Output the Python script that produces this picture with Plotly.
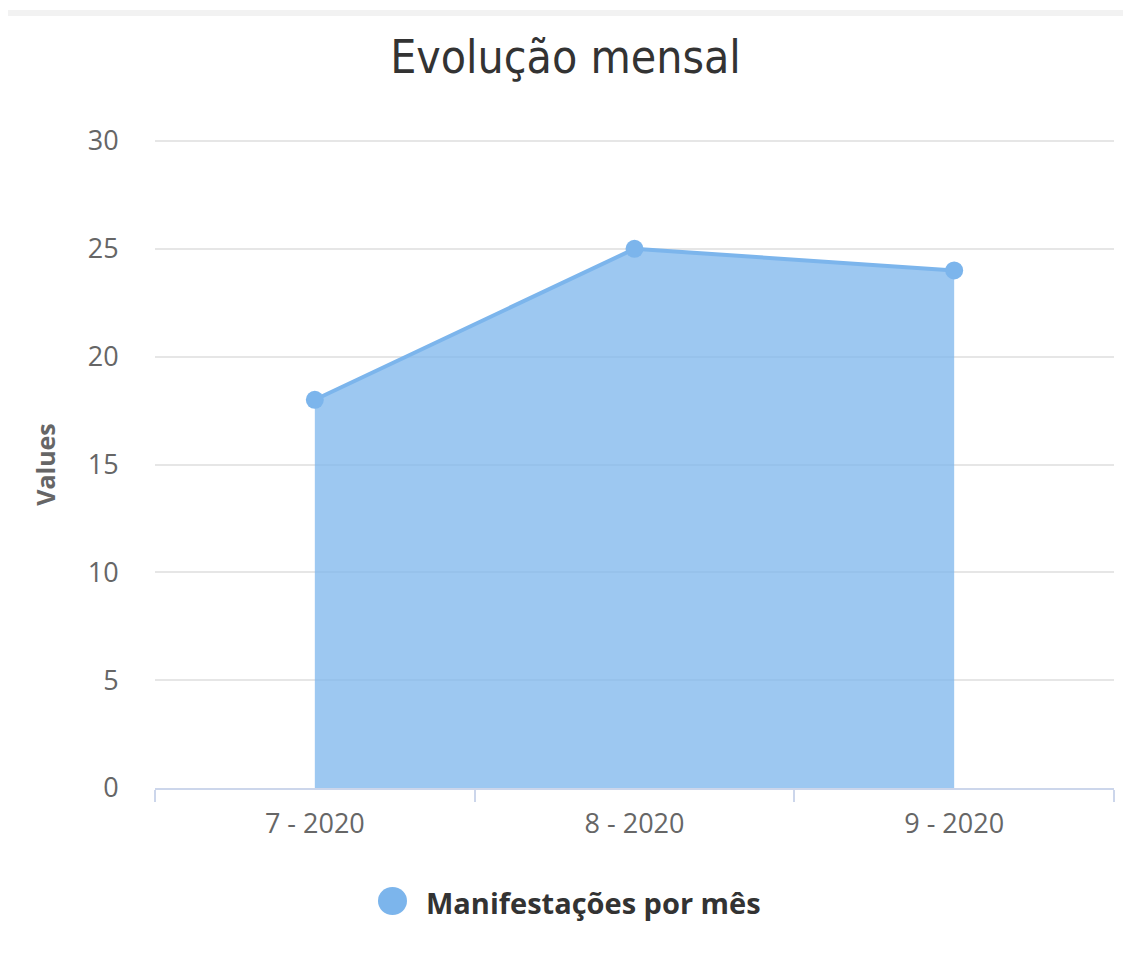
import plotly.graph_objects as go

categories = ["7 - 2020", "8 - 2020", "9 - 2020"]
values = [18, 25, 24]
series_name = "Manifestações por mês"
title_text = "Evolução mensal"
y_ticks = [0, 5, 10, 15, 20, 25, 30]

# page body has an 8px margin; figure coordinates are offset accordingly
OFF = 8
W, H = 1131 - OFF, 976 - 2 * OFF
L = 155 - OFF
R = W - (1114 - OFF)
T = 141 - OFF
B = H - (788 - OFF)
ph = H - T - B
pw = W - L - R

def px_x(px):
    return (px - OFF - L) / pw

def px_y(py):
    return (H - B - (py - OFF)) / ph

fig = go.Figure()
fig.add_trace(go.Scatter(
    x=categories, y=values, mode="lines+markers", name=series_name,
    fill="tozeroy", fillcolor="rgba(124,181,236,0.75)",
    line=dict(color="#7cb5ec", width=4),
    marker=dict(color="#7cb5ec", size=18),
    showlegend=False, hoverinfo="x+y",
))

shapes = [
    dict(type="rect", xref="paper", yref="paper",
         x0=px_x(4), x1=px_x(1140), y0=px_y(16), y1=px_y(10),
         fillcolor="#f2f2f2", line=dict(width=0), layer="below"),
    dict(type="line", xref="paper", yref="paper",
         x0=0, x1=1, y0=1, y1=1,
         line=dict(color="#e6e6e6", width=2), layer="below"),
    dict(type="circle", xref="paper", yref="paper",
         x0=px_x(378), x1=px_x(407), y0=px_y(915), y1=px_y(887),
         fillcolor="#7cb5ec", line=dict(width=0)),
]

annotations = [
    dict(text=series_name, xref="paper", yref="paper",
         x=px_x(424), y=px_y(902), xanchor="left", yanchor="middle",
         showarrow=False,
         font=dict(family="Open Sans, DejaVu Sans, sans-serif", size=29, color="#333333", weight="bold")),
]

tick_font = dict(family="Open Sans, sans-serif", size=27, color="#666666")

fig.update_layout(
    width=W, height=H,
    margin=dict(l=L, r=R, t=T, b=B),
    paper_bgcolor="white", plot_bgcolor="white",
    title=dict(text=title_text, x=(565.5 - OFF) / W, xref="container", xanchor="center",
               y=1 - (57 - OFF) / H, yref="container", yanchor="middle",
               font=dict(family="DejaVu Sans Condensed, Liberation Sans Narrow, sans-serif",
                         size=46, color="#333333")),
    xaxis=dict(type="category", range=[-0.5, 2.5], tickson="boundaries",
               showgrid=False, showline=True, linecolor="#ccd6eb", linewidth=2,
               ticks="outside", ticklen=12, tickwidth=2, tickcolor="#ccd6eb",
               ticklabelstandoff=11,
               tickfont=tick_font, zeroline=False, fixedrange=True),
    yaxis=dict(range=[0, 30], tickvals=y_ticks, showgrid=True, gridcolor="#e6e6e6", gridwidth=2,
               zeroline=False, showline=False, ticks="outside", ticklen=30, tickcolor="rgba(0,0,0,0)",
               tickfont=tick_font,
               title=dict(text="Values", standoff=24,
                          font=dict(family="Open Sans, sans-serif", size=25, color="#666666", weight="bold")),
               fixedrange=True),
    shapes=shapes,
    annotations=annotations,
    showlegend=False,
)

fig.write_html("out.html")
